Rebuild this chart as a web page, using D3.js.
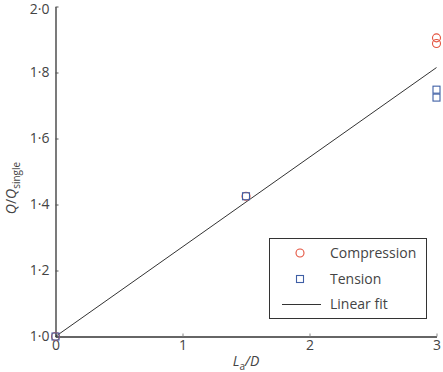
<!DOCTYPE html>
<html>
<head>
<meta charset="utf-8">
<script src="https://cdn.jsdelivr.net/npm/d3@7"></script>
<style>
  body { margin: 0; background: #fff; }
  text { font-family: "Open Sans", sans-serif; fill: #444; }
</style>
</head>
<body>
<div id="chart"></div>
<script>
// data
const compX = [0, 1.5, 3, 3];
const compY = [1.0, 1.425, 1.905, 1.888];
const tensX = [0, 1.5, 3, 3];
const tensY = [1.0, 1.425, 1.748, 1.724];
const fitX = [0, 3];
const fitY = [1.0, 1.815];
const xTicks = [0, 1, 2, 3];
const yTicks = [1.0, 1.2, 1.4, 1.6, 1.8, 2.0];

const W = 443, H = 372;
const red = "#e4533f", blue = "#3f5fa5", lineCol = "#333";

var svg = d3.select("#chart").append("svg")
  .attr("width", W).attr("height", H);

const x = d3.scaleLinear().domain([0, 3]).range([55.5, 436.5]);
const y = d3.scaleLinear().domain([1, 2]).range([336.5, 6.5]);

// axes
svg.append("g")
  .attr("transform", "translate(0,336.5)")
  .call(d3.axisBottom(x).tickValues(xTicks).tickSizeInner(-3).tickSizeOuter(0).tickPadding(6).tickFormat(d3.format("d")))
  .call(g => g.select(".domain").attr("stroke", lineCol).attr("stroke-width", 1.3))
  .call(g => g.selectAll(".tick line").attr("stroke", "#888"))
  .call(g => g.selectAll(".tick text").attr("font-size", 14).attr("dy", "0.55em"));

svg.append("g")
  .attr("transform", "translate(55.5,0)")
  .call(d3.axisLeft(y).tickValues(yTicks).tickSizeInner(-3).tickSizeOuter(0).tickPadding(6)
    .tickFormat(d => d3.format(".1f")(d).replace(".", "·")))
  .call(g => g.select(".domain").attr("stroke", lineCol).attr("stroke-width", 1.3))
  .call(g => g.selectAll(".tick line").attr("stroke", "#555"))
  .call(g => g.selectAll(".tick text").attr("font-size", 14)
    .attr("dy", d => d === 2 ? "0.5em" : "0.32em"));

// linear fit
svg.append("path")
  .datum(fitX.map((d, i) => [d, fitY[i]]))
  .attr("fill", "none").attr("stroke", lineCol).attr("stroke-width", 1)
  .attr("d", d3.line().x(d => x(d[0])).y(d => y(d[1])));

// compression circles
svg.selectAll(".comp")
  .data(compX.map((d, i) => [d, compY[i]]))
  .enter().append("circle")
  .attr("class", "comp")
  .attr("cx", d => x(d[0])).attr("cy", d => y(d[1]))
  .attr("r", 4).attr("fill", "none").attr("stroke", red).attr("stroke-width", 1.1);

// tension squares
svg.selectAll(".tens")
  .data(tensX.map((d, i) => [d, tensY[i]]))
  .enter().append("rect")
  .attr("class", "tens")
  .attr("x", d => x(d[0]) - 3.5).attr("y", d => y(d[1]) - 3.5)
  .attr("width", 7).attr("height", 7)
  .attr("fill", "none").attr("stroke", blue).attr("stroke-width", 1.1);

// axis titles
var yt = svg.append("text")
  .attr("transform", "translate(16,188) rotate(-90)")
  .attr("text-anchor", "middle").attr("font-size", 14);
yt.append("tspan").attr("font-style", "italic").text("Q");
yt.append("tspan").text("/");
yt.append("tspan").attr("font-style", "italic").text("Q");
yt.append("tspan").attr("font-size", 10).attr("dy", 4).text("single");

var xt = svg.append("text")
  .attr("x", 246).attr("y", 366)
  .attr("text-anchor", "middle").attr("font-size", 14);
xt.append("tspan").attr("font-style", "italic").text("L");
xt.append("tspan").attr("font-size", 10).attr("dy", 4).text("a");
xt.append("tspan").attr("dy", -4).attr("font-style", "italic").text("/D");

// legend
var lg = svg.append("g");
lg.append("rect").attr("x", 269.5).attr("y", 238.5).attr("width", 157).attr("height", 80)
  .attr("fill", "#fff").attr("stroke", lineCol).attr("stroke-width", 1);
lg.append("circle").attr("cx", 300).attr("cy", 253).attr("r", 4)
  .attr("fill", "none").attr("stroke", red).attr("stroke-width", 1.1);
lg.append("rect").attr("x", 296.5).attr("y", 275.5).attr("width", 7).attr("height", 7)
  .attr("fill", "none").attr("stroke", blue).attr("stroke-width", 1.1);
lg.append("line").attr("x1", 282).attr("x2", 321).attr("y1", 304.5).attr("y2", 304.5)
  .attr("stroke", lineCol).attr("stroke-width", 1);
const legendLabels = ["Compression", "Tension", "Linear fit"];
lg.selectAll(".lt").data(legendLabels).enter().append("text")
  .attr("x", 330).attr("y", (d, i) => 258 + i * 25.5)
  .attr("font-size", 14).text(d => d);
</script>
</body>
</html>
